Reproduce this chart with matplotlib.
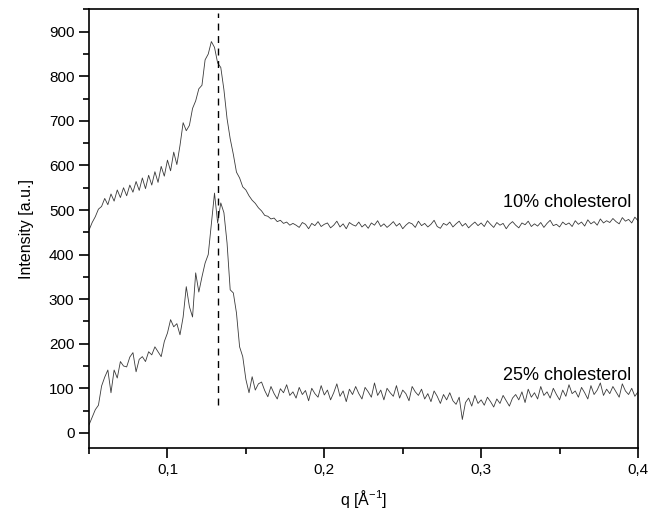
import numpy as np
import matplotlib
matplotlib.use("Agg")
import matplotlib.pyplot as plt
from matplotlib.ticker import MultipleLocator, FixedLocator, FixedFormatter

plt.rcParams['font.family'] = ['Liberation Sans', 'DejaVu Sans']
plt.rcParams['mathtext.default'] = 'regular'

chol10 = [
    455, 472, 485, 502, 508, 526, 512, 536, 520, 545,
    528, 550, 532, 556, 540, 564, 544, 572, 548, 578,
    556, 586, 562, 598, 576, 612, 588, 630, 602, 645,
    696, 678, 690, 728, 745, 772, 780, 837, 850, 878,
    865, 830, 820, 770, 705, 660, 625, 585, 572, 552,
    545, 532, 522, 515, 505, 498, 488, 486, 480, 482,
    474, 477, 470, 473, 466, 470,
    466, 461, 472, 468, 458, 470, 465, 474, 463, 468,
    471, 460, 466, 475, 462, 469, 458, 472, 467, 464,
    473, 462, 468, 459, 471, 466, 476, 463, 469, 461,
    467, 474, 464, 470, 458, 466, 472, 469, 461, 475,
    465, 470, 462, 468, 477, 463, 459, 470, 466, 473,
    462, 469, 475, 464, 470, 460, 467, 473, 465, 471,
    463, 476, 468, 461, 472, 466, 470, 458, 468, 474,
    466, 460, 471, 467, 475, 463, 469, 464, 472, 461,
    470, 477, 465, 468, 462, 473, 467, 471, 463, 476,
    468, 473, 464, 478, 469, 474, 466, 480, 471, 476,
    472, 481, 474, 469, 483, 475, 479, 471, 484, 476,
]
chol25 = [
    18, 35, 52, 62, 105, 125, 141, 90, 141, 123,
    160, 150, 148, 170, 180, 137, 165, 171, 160, 182,
    175, 193, 182, 171, 205, 224, 254, 238, 245, 220,
    260, 328, 283, 260, 359, 316, 350, 381, 400, 470,
    538, 471, 516, 494, 426, 321, 314, 269, 193, 171,
    120, 90, 126, 96, 110, 114,
    95, 81, 104, 88, 76, 99, 90, 108, 84, 92,
    78, 102, 86, 95, 72, 100, 88, 80, 106, 85,
    96, 74, 90, 110, 82, 94, 70, 98, 86, 104,
    88, 76, 102, 92, 80, 112, 84, 96, 74, 100,
    90, 82, 106, 78, 96, 88, 72, 104, 92, 84,
    98, 76, 88, 70, 94, 82, 66, 86, 74, 90,
    72, 64, 80, 30, 68, 78, 60, 84, 66, 74,
    62, 80, 70, 58, 76, 66, 84, 72, 60, 78,
    86, 74, 92, 68, 98, 80, 90, 76, 104, 84,
    92, 78, 100, 86, 74, 96, 82, 108, 88, 94,
    80, 102, 90, 76, 106, 86, 96, 112, 84, 98,
    88, 104, 92, 80, 110, 94, 86, 100, 82, 92,
]
q10 = np.linspace(0.05, 0.40, len(chol10))
q25 = np.linspace(0.05, 0.40, len(chol25))

peak_q = 0.1322
peak_span = [63, 943]
labels = ["10% cholesterol", "25% cholesterol"]
label_y = [518, 128]
xticks = [0.1, 0.2, 0.3, 0.4]
xticklabels = ["0,1", "0,2", "0,3", "0,4"]

fig = plt.figure(figsize=(6.58, 5.19), dpi=100)
ax = fig.add_axes([0.1353, 0.1368, 0.8343, 0.8449])

ax.plot(q10, chol10, color="#3a3a3a", lw=0.6)
ax.plot(q25, chol25, color="#3a3a3a", lw=0.6)
ax.vlines(peak_q, peak_span[0], peak_span[1], colors="black", linestyles=(0, (5, 4)), lw=1)

for txt, yy in zip(labels, label_y):
    ax.text(0.396, yy, txt, ha="right", va="center", fontsize=13)

ax.set_xlim(0.05, 0.40)
ax.set_ylim(-34, 950)
ax.xaxis.set_major_locator(FixedLocator(xticks))
ax.xaxis.set_major_formatter(FixedFormatter(xticklabels))
ax.xaxis.set_minor_locator(MultipleLocator(0.05))
ax.set_yticks(range(0, 901, 100))
ax.yaxis.set_minor_locator(MultipleLocator(50))
ax.tick_params(which="both", direction="out", width=1.2, labelsize=11, top=False, right=False)
ax.tick_params(which="major", length=7)
ax.tick_params(which="minor", length=4)
for s in ax.spines.values():
    s.set_linewidth(1.2)

ax.set_xlabel("q [Å$^{-1}$]", fontsize=11.5, labelpad=8)
ax.set_ylabel("Intensity [a.u.]", fontsize=11.5, labelpad=11)

fig.savefig("out.png", dpi=100)
